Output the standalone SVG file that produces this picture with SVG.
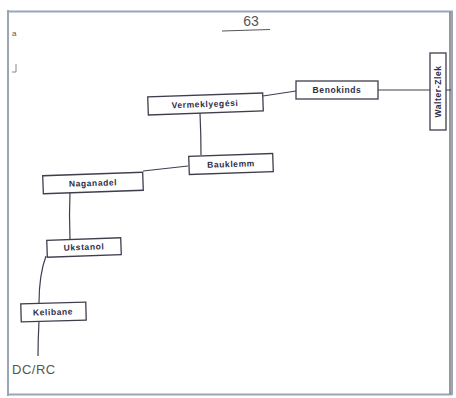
<svg xmlns="http://www.w3.org/2000/svg" width="456" height="398" viewBox="0 0 456 398">
<style>
.bx{fill:#fff;stroke:#3e3e4e;stroke-width:1.3}
.ln{fill:none;stroke:#3e3e4e;stroke-width:1.2}
.t{font-family:"Liberation Sans",Arial,sans-serif;font-size:8.5px;fill:#2e2e48;letter-spacing:0.6px;font-weight:bold}
.frame{fill:none;stroke:#9aa6b8;stroke-width:2}
</style>
<rect width="456" height="398" fill="#fff"/>
<g id="page">
<path class="frame" d="M8 10 V396 M8 11.5 H452 V395 M8 394.5 H452"/>
<path d="M450 12 V394" stroke="#555" stroke-width="1.2"/>
<text x="251" y="26" text-anchor="middle" font-family="Liberation Sans,Arial,sans-serif" font-size="14" fill="#555">63</text>
<path d="M222 31 L270 29.5" stroke="#555" stroke-width="1.2"/>
<text x="12" y="36" font-family="Liberation Sans,Arial,sans-serif" font-size="8" fill="#555">a</text>
<path d="M16 64 V72 M12 72 H16" stroke="#888" stroke-width="1"/>
</g>
<g id="connectors">
<path class="ln" d="M263 96 L296 91"/>
<path class="ln" d="M378 90 H430 M446 90 H451"/>
<path class="ln" d="M200 113 Q201 135 201 155"/>
<path class="ln" d="M143 171 L188 166"/>
<path class="ln" d="M70 192 Q69 215 70 239"/>
<path class="ln" d="M46 256 Q39 275 39 303 M39 321 Q38 340 38 356"/>
</g>
<g id="n1"><rect class="bx" x="148" y="95" width="115" height="18" transform="rotate(-2 205 104)"/><text class="t" x="205" y="107" text-anchor="middle" transform="rotate(-2 205 104)">Vermeklyegési</text></g>
<g id="n2"><rect class="bx" x="296" y="81" width="82" height="18"/><text class="t" x="337" y="93" text-anchor="middle">Benokinds</text></g>
<g id="n3"><rect class="bx" x="430" y="53" width="16" height="77"/><text class="t" x="0" y="0" text-anchor="middle" transform="translate(441 91.5) rotate(-90)">Walter-Zlek</text></g>
<g id="n4"><rect class="bx" x="189" y="155" width="84" height="18" transform="rotate(-2 231 164)"/><text class="t" x="231" y="167" text-anchor="middle" transform="rotate(-2 231 164)">Bauklemm</text></g>
<g id="n5"><rect class="bx" x="43" y="174" width="100" height="18" transform="rotate(-2 93 183)"/><text class="t" x="93" y="186" text-anchor="middle" transform="rotate(-2 93 183)">Naganadel</text></g>
<g id="n6"><rect class="bx" x="47" y="239" width="74" height="17" transform="rotate(-2 84 247)"/><text class="t" x="84" y="250" text-anchor="middle" transform="rotate(-2 84 247)">Ukstanol</text></g>
<g id="n7"><rect class="bx" x="21" y="303" width="65" height="18" transform="rotate(-1.5 53 312)"/><text class="t" x="53" y="315" text-anchor="middle" transform="rotate(-1.5 53 312)">Kelibane</text></g>
<g id="n8"><text x="12" y="374" font-family="Liberation Sans,Arial,sans-serif" font-size="13" fill="#555" letter-spacing="0.5">DC/RC</text></g>
</svg>
